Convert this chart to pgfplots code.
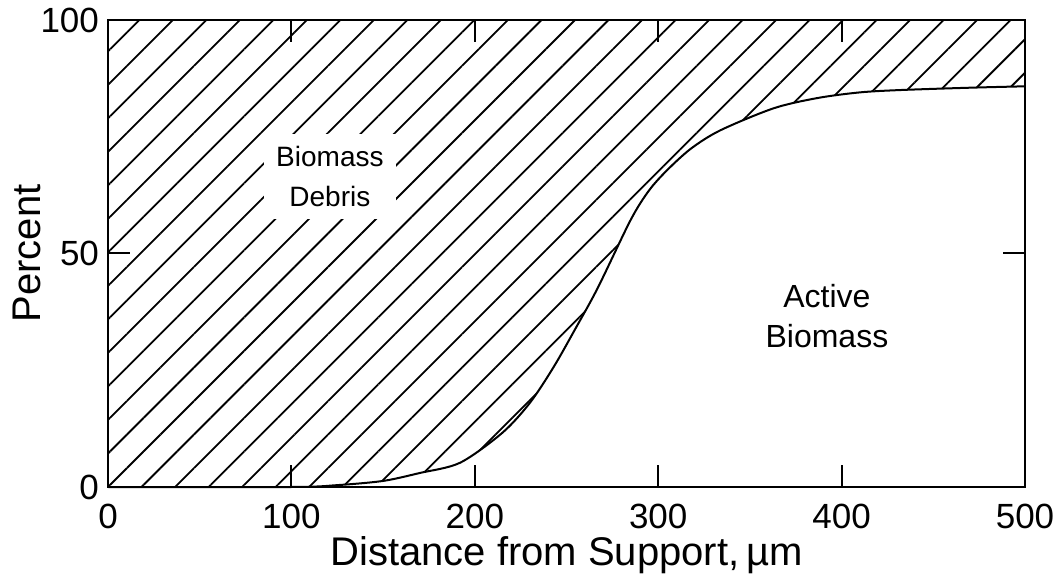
\documentclass[border=0pt]{standalone}
\usepackage{fontspec}
\setmainfont{Liberation Sans}
\usepackage{pgfplots}
\pgfplotsset{compat=1.18}
\usepgfplotslibrary{fillbetween}
\usetikzlibrary{patterns.meta,calc}

\begin{document}
\begin{tikzpicture}
  \begin{axis}[
    scale only axis,
    width=458.5pt, height=233.5pt,
    xmin=0, xmax=500, ymin=0, ymax=100,
    xtick={0,100,200,300,400,500},
    ytick={0,50,100},
    tick align=inside,
    major tick length=11pt,
    tick style={black, line width=1pt},
    axis line style={black, line width=1.3pt},
    /pgf/number format/assume math mode=true,
    tick label style={font=\fontsize{17.5pt}{20pt}\selectfont},
    xticklabel style={yshift=-5pt},
    yticklabel style={xshift=-1pt},
    xlabel={Distance from Support,\,µm},
    ylabel={Percent},
    label style={font=\fontsize{20pt}{24pt}\selectfont},
    xlabel style={yshift=3pt},
    ylabel style={yshift=-7pt},
    clip=false,
  ]
    % upper edge and the active-biomass curve
    \addplot[name path=top, draw=none] coordinates {(0,100) (500,100)};
    \addplot[name path=curve, black, line width=1pt, smooth] coordinates {
      (0,0) (100,0) (125,0.4) (150,1.3) (170,3) (192,5.2)
      (215,11.6) (230,18) (243,25.7) (255,34) (267,42.6)
      (285,57.2) (295,63.5) (305,67.9) (318,72.5) (334,76.4)
      (363,81.1) (387,83.3) (410,84.5) (432,85.0) (470,85.5) (500,85.8)
    };
    % hatched biomass debris region
    \addplot[draw=none, pattern={Lines[angle=45, distance=11.85pt, line width=0.9pt, xshift=9pt]}]
      fill between[of=top and curve];

    \node[fill=white, align=center, inner sep=6pt,
          font=\fontsize{14pt}{20pt}\selectfont]
      at (axis cs:121,66.5) {Biomass\\Debris};
    \node[align=center, font=\fontsize{16pt}{20pt}\selectfont]
      at (axis cs:392,36.5) {Active\\Biomass};
  \end{axis}
  \pgfresetboundingbox
  \path[use as bounding box]
    ($(current axis.south west)+(-54pt,-45pt)$) rectangle
    ($(current axis.north east)+(19pt,10pt)$);
\end{tikzpicture}
\end{document}
